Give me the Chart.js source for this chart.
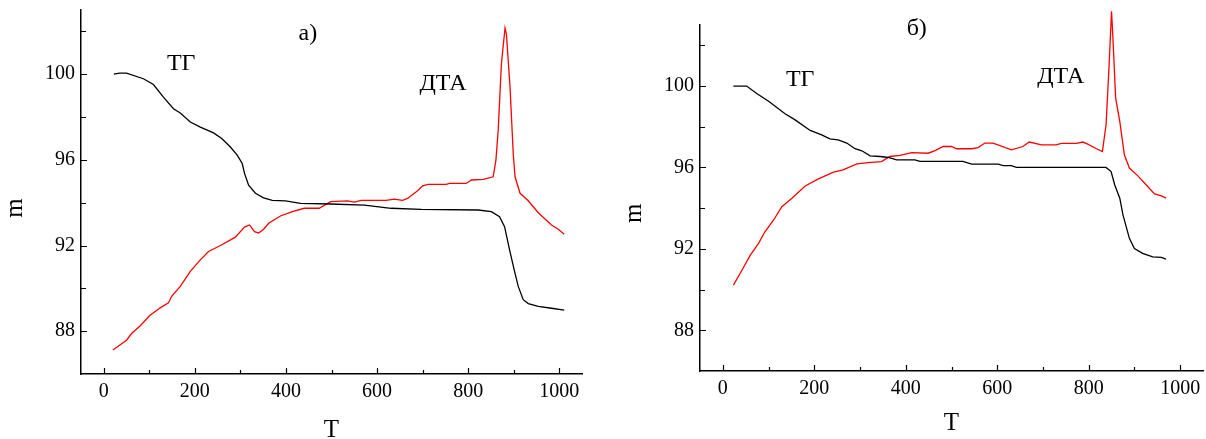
<!DOCTYPE html>
<html>
<head>
<meta charset="utf-8">
<script src="https://cdn.jsdelivr.net/npm/chart.js@4.4.1/dist/chart.umd.min.js"></script>
<style>
  html, body { margin: 0; padding: 0; background: #fff; }
  #wrap { position: relative; width: 1206px; height: 439px; }
  canvas { position: absolute; top: 0; }
</style>
</head>
<body>
<div id="wrap">
  <canvas id="chartA" width="600" height="439" style="left:0"></canvas>
  <canvas id="chartB" width="606" height="439" style="left:600px"></canvas>
</div>
<script>
// Achsen (beide Diagramme gleich)
const xMajor = [0, 200, 400, 600, 800, 1000];
const xMinor = [100, 300, 500, 700, 900];
const yMajor = [88, 92, 96, 100];
const yMinor = [90, 94, 98, 102];

// а) ТГ
const tgA_T = [22, 35, 50, 87, 109, 131, 153, 168, 190, 212, 241, 259, 278, 293, 304, 309, 318, 333, 351, 370,
  399, 432, 498, 572, 631, 697, 822, 851, 869, 880, 891, 901, 910, 921, 932, 954, 983, 1011];
const tgA_m = [100.0, 100.05, 100.05, 99.79, 99.52, 98.93, 98.39, 98.19, 97.77, 97.53, 97.26, 97.0, 96.6, 96.22,
  95.83, 95.37, 94.82, 94.44, 94.23, 94.11, 94.09, 93.97, 93.94, 93.89, 93.74, 93.69, 93.66, 93.58, 93.35,
  92.88, 91.8, 90.87, 90.09, 89.47, 89.29, 89.16, 89.07, 88.98];

// а) ДТА
const dtaA_T = [20, 50, 61, 79, 101, 124, 142, 149, 168, 190, 212, 230, 256, 289, 309, 320, 331, 340, 351, 362,
  388, 414, 440, 473, 498, 535, 550, 565, 620, 638, 656, 667, 689, 700, 712, 752, 759, 796, 807, 833,
  855, 861, 866, 873, 881, 884, 892, 899, 903, 914, 932, 954, 983, 998, 1011];
const dtaA_m = [87.12, 87.58, 87.89, 88.23, 88.73, 89.09, 89.32, 89.63, 90.09, 90.79, 91.33, 91.72, 92.0, 92.39,
  92.86, 92.96, 92.65, 92.58, 92.76, 93.04, 93.38, 93.58, 93.74, 93.74, 94.05, 94.09, 94.03, 94.11, 94.11,
  94.17, 94.11, 94.2, 94.56, 94.79, 94.86, 94.86, 94.9, 94.9, 95.06, 95.09, 95.21, 95.99, 97.38, 100.48,
  102.16, 101.88, 99.4, 96.3, 95.21, 94.44, 94.09, 93.53, 92.96, 92.76, 92.53];

// б) ТГ
const tgB_T = [23, 52, 74, 100, 136, 158, 191, 216, 234, 252, 271, 289, 304, 322, 344, 362, 380, 420, 431, 525,
  544, 602, 613, 631, 642, 838, 849, 857, 868, 875, 889, 900, 918, 940, 959, 969];
const tgB_m = [100, 100, 99.63, 99.25, 98.64, 98.34, 97.82, 97.6, 97.41, 97.36, 97.2, 96.92, 96.82, 96.57, 96.54,
  96.49, 96.37, 96.37, 96.3, 96.3, 96.16, 96.16, 96.09, 96.09, 96.0, 96.0, 95.8, 95.14, 94.49, 93.67,
  92.52, 92.02, 91.78, 91.61, 91.58, 91.5];

// б) ДТА
const dtaB_T = [23, 42, 60, 78, 92, 111, 129, 151, 180, 209, 242, 263, 293, 318, 347, 365, 387, 413, 449, 464,
  482, 500, 511, 544, 558, 573, 591, 631, 656, 670, 697, 729, 740, 773, 787, 798, 817, 830, 838, 844,
  850, 853, 859, 868, 878, 889, 907, 926, 944, 959, 969];
const dtaB_m = [90.22, 90.96, 91.69, 92.27, 92.84, 93.42, 94.07, 94.49, 95.09, 95.44, 95.77, 95.88, 96.18, 96.24,
  96.29, 96.54, 96.59, 96.73, 96.7, 96.83, 97.03, 97.03, 96.92, 96.92, 96.98, 97.2, 97.2, 96.87, 97.03,
  97.25, 97.11, 97.11, 97.18, 97.18, 97.25, 97.15, 96.92, 96.78, 98.1, 100.72, 103.68, 102.37, 99.41,
  98.26, 96.62, 95.97, 95.6, 95.14, 94.7, 94.6, 94.49];

const FONT = "'Liberation Serif', 'Times New Roman', serif";

function pts(xs, ys) {
  return xs.map((x, i) => ({ x: x, y: ys[i] }));
}

// Ticks nach innen + Beschriftungen im Diagramm
function extras(notes) {
  return {
    id: 'extras',
    afterDraw(chart) {
      const { ctx, chartArea: a, scales: { x, y } } = chart;
      ctx.save();
      ctx.strokeStyle = '#000';
      ctx.lineWidth = 1.2;
      ctx.beginPath();
      const tx = (v, len) => {
        const p = Math.round(x.getPixelForValue(v)) + 0.5;
        ctx.moveTo(p, a.bottom); ctx.lineTo(p, a.bottom - len);
      };
      const ty = (v, len) => {
        const p = Math.round(y.getPixelForValue(v)) + 0.5;
        ctx.moveTo(a.left, p); ctx.lineTo(a.left + len, p);
      };
      xMajor.forEach(v => tx(v, 6));
      xMinor.forEach(v => tx(v, 4));
      yMajor.forEach(v => ty(v, 6));
      yMinor.forEach(v => ty(v, 5));
      ctx.stroke();

      ctx.fillStyle = '#000';
      ctx.textAlign = 'center';
      ctx.textBaseline = 'middle';
      ctx.font = '24px ' + FONT;
      notes.forEach(n => {
        ctx.fillText(n.text, x.getPixelForValue(n.T), y.getPixelForValue(n.m));
      });

      // Achsentitel m (gedreht)
      ctx.font = '25px ' + FONT;
      ctx.translate(a.left - 66, y.getPixelForValue(93.75));
      ctx.rotate(-Math.PI / 2);
      ctx.fillText('m', 0, 0);
      ctx.restore();
    }
  };
}

function makeChart(id, tg, dta, g, notes) {
  const ctx = document.getElementById(id).getContext('2d');
  return new Chart(ctx, {
    type: 'line',
    data: {
      datasets: [
        { label: 'ТГ', data: tg, borderColor: '#000', borderWidth: 1.3, pointRadius: 0, tension: 0, clip: false },
        { label: 'ДТА', data: dta, borderColor: '#ff0000', borderWidth: 1.3, pointRadius: 0, tension: 0, clip: false }
      ]
    },
    options: {
      responsive: false,
      animation: false,
      layout: { padding: { top: g.top, right: g.right, left: 0, bottom: 0 } },
      plugins: { legend: { display: false }, tooltip: { enabled: false } },
      scales: {
        x: {
          type: 'linear', min: -50, max: 1050,
          grid: { display: false, drawTicks: false },
          border: { color: '#000', width: 1.5 },
          ticks: {
            color: '#000', padding: 6, maxRotation: 0, autoSkip: false,
            font: { family: FONT, size: 20, lineHeight: 1.2 },
            callback: v => String(v)
          },
          afterBuildTicks: s => { s.ticks = xMajor.map(v => ({ value: v })); },
          afterFit: s => { s.height = g.xHeight; s.paddingLeft = 0; s.paddingRight = 0; },
          title: {
            display: true, text: 'T', color: '#000',
            font: { family: FONT, size: 25, lineHeight: 1 },
            padding: { top: 0, bottom: g.tPad }
          }
        },
        y: {
          type: 'linear', min: 86, max: 103,
          grid: { display: false, drawTicks: false },
          border: { color: '#000', width: 1.5 },
          ticks: {
            color: '#000', padding: 6, autoSkip: false,
            font: { family: FONT, size: 20, lineHeight: 1.2 },
            callback: v => String(v)
          },
          afterBuildTicks: s => { s.ticks = yMajor.map(v => ({ value: v })); },
          afterFit: s => { s.width = g.yWidth; s.paddingTop = 0; s.paddingBottom = 0; }
        }
      }
    },
    plugins: [extras(notes)]
  });
}

makeChart('chartA', pts(tgA_T, tgA_m), pts(dtaA_T, dtaA_m),
  { top: 10, right: 18, xHeight: 65, yWidth: 81, tPad: -3.5 },
  [
    { text: 'а)', T: 448, m: 101.89 },
    { text: 'ТГ', T: 170, m: 100.47 },
    { text: 'ДТА', T: 745, m: 99.57 }
  ]);

makeChart('chartB', pts(tgB_T, tgB_m), pts(dtaB_T, dtaB_m),
  { top: 25, right: 3, xHeight: 68, yWidth: 100, tPad: 3.5 },
  [
    { text: 'б)', T: 424, m: 102.83 },
    { text: 'ТГ', T: 169, m: 100.32 },
    { text: 'ДТА', T: 739, m: 100.46 }
  ]);
</script>
</body>
</html>
